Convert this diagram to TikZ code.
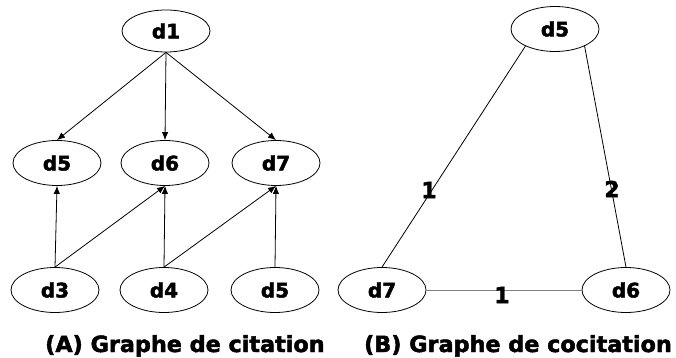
\documentclass[tikz,border=0pt]{standalone}
\usepackage{fontspec}
\setmainfont{DejaVu Sans}
\newfontfamily\heavyfont[FakeBold=2.2]{DejaVu Sans Bold}
\usetikzlibrary{shapes.geometric,arrows.meta}
\begin{document}
\begin{tikzpicture}[x=1pt,y=-1pt,
  doc/.style={ellipse,draw,line width=0.8pt,minimum width=88pt,minimum height=45pt,inner sep=0pt,
    font=\heavyfont\fontsize{20}{20}\selectfont},
  cite/.style={line width=0.8pt,-{Latex[length=8pt,width=6.5pt]}},
  cocite/.style={line width=0.8pt},
  wlabel/.style={font=\heavyfont\fontsize{22}{22}\selectfont,inner sep=0pt},
  caption/.style={font=\heavyfont\fontsize{22.3}{22.3}\selectfont,inner sep=0pt,anchor=base west}]
\useasboundingbox (0,0) rectangle (676,358);
% (A) citation graph
\node[doc,minimum height=42pt] (a1) at (166,31) {d1};
\node[doc] (a5) at (57,163) {d5};
\node[doc] (a6) at (165,163) {d6};
\node[doc] (a7) at (276,163) {d7};
\node[doc] (a3) at (55,290) {d3};
\node[doc] (a4) at (164,290) {d4};
\node[doc] (a5b) at (275,290) {d5};
\draw[cite] (a1.south) -- (a5.north);
\draw[cite] (a1.south) -- (a6.north);
\draw[cite] (a1.south) -- (a7.north);
\draw[cite] (a3.north) -- (a5.south);
\draw[cite] (a3.north) -- (a6.south);
\draw[cite] (a4.north) -- (a6.south);
\draw[cite] (a4.north) -- (a7.south);
\draw[cite] (a5b.north) -- (a7.south);
\node[caption] (capA) at (45,352) {(A) Graphe de citation};
% (B) cocitation graph
\node[doc] (b5) at (555,29) {d5};
\node[doc] (b7) at (382,290) {d7};
\node[doc] (b6) at (626,290) {d6};
\draw[cocite] (b5.210) -- (b7.north);
\draw[cocite] (b5.-30) -- (b6.north);
\draw[cocite,black!50] (b7.east) -- (b6.west);
\node[wlabel] (l1) at (429,190) {1};
\node[wlabel] (l2) at (612,189) {2};
\node[wlabel] (l3) at (502,295) {1};
\node[caption,anchor=base east] (capB) at (672,352) {(B) Graphe de cocitation};
\end{tikzpicture}
\end{document}
